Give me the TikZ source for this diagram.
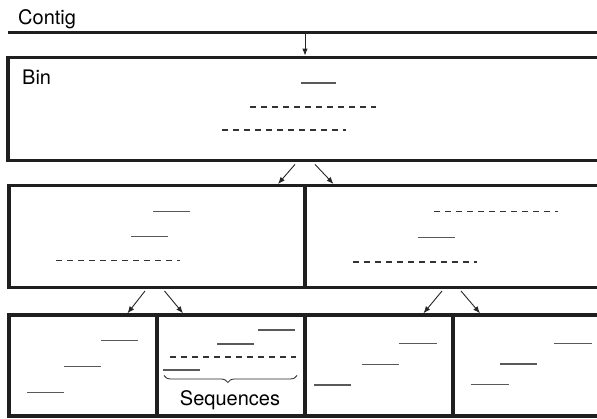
\documentclass[tikz,border=0pt]{standalone}
\usepackage{fontspec}
\setmainfont{TeX Gyre Heros}
\usetikzlibrary{arrows.meta,decorations.pathreplacing}
\begin{document}
\begin{tikzpicture}[x=1pt,y=-1pt,
  bx/.style={draw=black!88,line width=3.4pt,rectangle,inner sep=0pt},
  arr/.style={draw=black!85,line width=0.9pt,-{Latex[length=7pt,width=5.5pt]}},
  seq/.style={draw=black!65,line width=1.3pt},
  dseq/.style={draw=black!80,line width=1.3pt,dash pattern=on 6pt off 5pt},
  lbl/.style={font=\fontsize{20}{24}\selectfont,inner sep=0pt,anchor=base west}]
\useasboundingbox (0,0) rectangle (597,419);
\clip (0,0) rectangle (597,419);
\fill[white] (0,0) rectangle (597,419);
% contig
\node[lbl] (contig) at (18,25) {Contig};
\coordinate (cl) at (8,32.3);
\coordinate (cr) at (605,32.3);
\draw[draw=black!88,line width=3.4pt] (cl) -- (cr);
% boxes
\node[bx,minimum width=594pt,minimum height=103.4pt] (bin) at (305,109) {};
\node[bx,minimum width=296pt,minimum height=101.6pt] (ml) at (157,236.5) {};
\node[bx,minimum width=298pt,minimum height=101.6pt] (mr) at (454,236.5) {};
\node[bx,minimum width=148pt,minimum height=101pt] (b1) at (83,365.5) {};
\node[bx,minimum width=148pt,minimum height=101pt] (b2) at (231,365.5) {};
\node[bx,minimum width=148pt,minimum height=101pt] (b3) at (379,365.5) {};
\node[bx,minimum width=150pt,minimum height=101pt] (b4) at (528,365.5) {};
\node[lbl] (binlbl) at (22,85) {Bin};
% arrows
\coordinate (ca) at (305,34);
\draw[arr] (ca) -- (bin.north);
\draw[arr] ([xshift=-10pt,yshift=-2pt]bin.south) -- (ml.north east -| 278,0);
\draw[arr] ([xshift=10pt,yshift=-2pt]bin.south) -- (mr.north west -| 333.5,0);
\draw[arr] ([xshift=-12pt,yshift=-2pt]ml.south) -- (b1.north east -| 127.5,0);
\draw[arr] ([xshift=7.5pt,yshift=-2pt]ml.south) -- (b2.north west -| 183,0);
\draw[arr] ([xshift=-12pt,yshift=-2pt]mr.south) -- (b3.north east -| 423.5,0);
\draw[arr] ([xshift=7pt,yshift=-2pt]mr.south) -- (b4.north west -| 480,0);
% bin sequences
\draw[seq] (301,83) -- (336,83);
\draw[dseq] (250,107) -- (376,107);
\draw[dseq] (222,130) -- (346,130);
% middle left
\draw[seq] (153,211.5) -- (190,211.5);
\draw[seq] (131,236.5) -- (168,236.5);
\draw[dseq] (56,260.5) -- (180,260.5);
% middle right
\draw[dseq] (434,211.5) -- (558,211.5);
\draw[seq] (418,237.5) -- (455,237.5);
\draw[dseq] (353,262) -- (477,262);
% bottom 1
\draw[seq] (101,340.7) -- (138,340.7);
\draw[seq] (64,366.7) -- (101,366.7);
\draw[seq] (27,392.3) -- (64,392.3);
% bottom 2
\draw[seq] (258,330) -- (295,330);
\draw[seq] (217,344) -- (254,344);
\draw[dseq] (170,357) -- (296,357);
\draw[seq] (163,370) -- (200,370);
\draw[draw=black!85,line width=0.8pt,decorate,decoration={brace,mirror,amplitude=7pt,aspect=0.48}] (164,375.5) -- (297,375.5);
\node[lbl,anchor=base] (seqlbl) at (230,406) {Sequences};
% bottom 3
\draw[seq] (399,343.7) -- (437,343.7);
\draw[seq] (362,364.7) -- (399,364.7);
\draw[seq] (314,385) -- (351,385);
% bottom 4
\draw[seq] (554,343.3) -- (592,343.3);
\draw[seq] (500,364) -- (537,364);
\draw[seq] (471,384.7) -- (509,384.7);
\end{tikzpicture}
\end{document}
